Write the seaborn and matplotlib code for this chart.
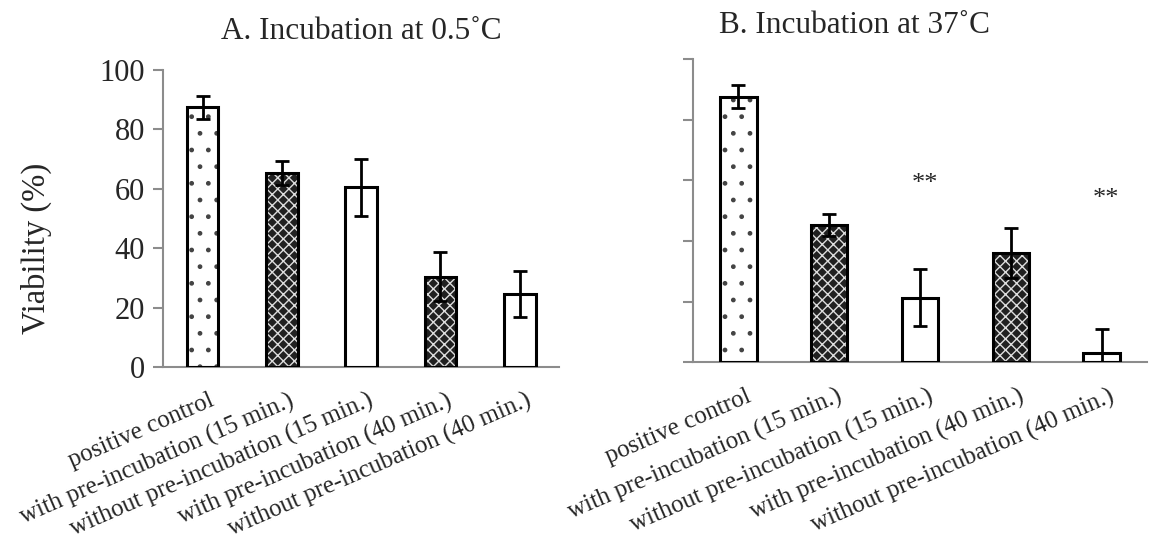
import matplotlib
matplotlib.use("Agg")
import matplotlib.pyplot as plt
import seaborn as sns
import pandas as pd
from matplotlib.patches import Rectangle

categories = ["positive control",
              "with pre-incubation (15 min.)",
              "without pre-incubation (15 min.)",
              "with pre-incubation (40 min.)",
              "without pre-incubation (40 min.)"]
vals_a = [87.4, 65.4, 60.5, 30.4, 24.6]
errs_a = [3.8, 4.0, 9.5, 8.3, 7.8]
vals_b = [87.7, 45.3, 21.3, 36.0, 3.2]
errs_b = [3.7, 3.6, 9.4, 8.3, 7.8]
stars_b = ["", "", "**", "", "**"]
star_y_b = [None, None, 59, None, 54]
titles = ["A. Incubation at 0.5˚C", "B. Incubation at 37˚C"]
yticks = [0, 20, 40, 60, 80, 100]

sns.set_theme(style="white")
plt.rcParams['font.family'] = ['Liberation Serif', 'DejaVu Serif']
plt.rcParams['hatch.linewidth'] = 1.0

hatches = ['.', 'xxx', '', 'xxx', '']
faces = ['white', '#202020', 'white', '#202020', 'white']
hcolors = ['#444444', '#dddddd', 'white', '#dddddd', 'white']

fig = plt.figure(figsize=(11.52, 5.44), dpi=100)
axA = fig.add_axes([0.1415, 0.3254, 0.344, 0.5459])
axB = fig.add_axes([0.6016, 0.334, 0.394, 0.557])

def draw(ax, vals, errs, xmax, show_labels):
    df = pd.DataFrame({"cat": categories, "val": vals})
    sns.barplot(data=df, x="cat", y="val", ax=ax, width=0.4, color="white",
                order=categories)
    for i, p in enumerate(ax.patches):
        p.set_facecolor(faces[i])
        p.set_hatch(hatches[i])
        p.set_edgecolor(hcolors[i])
        p.set_linewidth(0)
        ax.add_patch(Rectangle(p.get_xy(), p.get_width(), p.get_height(),
                               fill=False, edgecolor='black', linewidth=2.2, zorder=3))
    ax.errorbar(range(len(vals)), vals, yerr=errs, fmt='none', ecolor='black',
                elinewidth=2, capsize=5, capthick=2, zorder=4)
    ax.set_ylim(0, 100)
    ax.set_xlim(-0.5, xmax)
    ax.set_yticks(yticks)
    for s in ['top', 'right']:
        ax.spines[s].set_visible(False)
    for s in ['left', 'bottom']:
        ax.spines[s].set_color('#8c8c8c')
        ax.spines[s].set_linewidth(1.5)
    ax.set_xlabel("")
    ax.set_xticks([i - 0.5 for i in range(len(categories) + 1)])
    ax.set_xticklabels([])
    ax.tick_params(axis='x', length=7, width=1.5, color='#8c8c8c', direction='out')
    ax.tick_params(axis='y', length=7, width=1.5, color='#8c8c8c', direction='out',
                   labelsize=22, pad=6, left=True)
    for i, c in enumerate(categories):
        ax.text(i + 0.08, -7.5, c, rotation=23.5, rotation_mode='anchor', ha='right', va='top',
                fontsize=18, clip_on=False)
    if not show_labels:
        ax.set_yticklabels([])

draw(axA, vals_a, errs_a, 4.27, True)
axA.set_ylabel("Viability (%)", fontsize=23.5)
axA.yaxis.set_label_coords(-0.28, 0.40)
axA.set_title(titles[0], fontsize=22.5, pad=22)

draw(axB, vals_b, errs_b, 4.5, False)
axB.set_ylabel("")
axB.set_title(titles[1], fontsize=22.5, x=0.355, pad=19)
for i, s in enumerate(stars_b):
    if s:
        axB.text(i + 0.05, star_y_b[i], s, ha='center', va='center', fontsize=19)

fig.savefig("out.png", dpi=100)
